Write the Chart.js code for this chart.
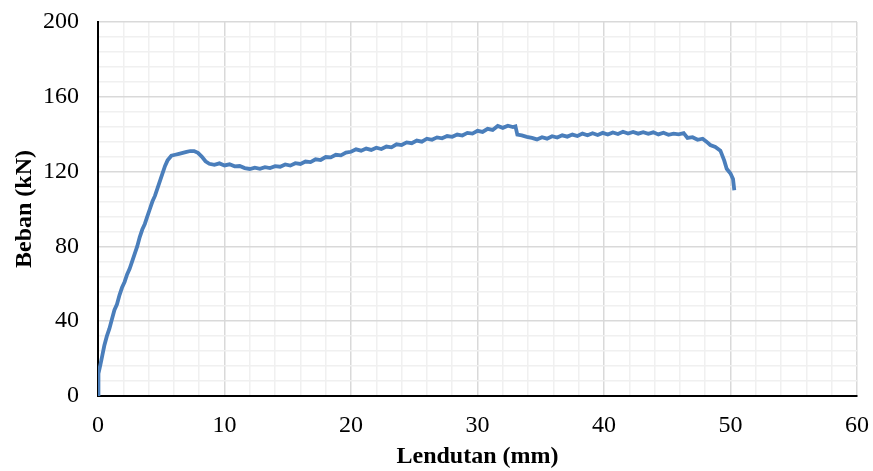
<!DOCTYPE html>
<html>
<head>
<meta charset="utf-8">
<script src="https://cdn.jsdelivr.net/npm/chart.js@4.4.1/dist/chart.umd.min.js"></script>
<style>
  html, body { margin: 0; padding: 0; background: #fff; }
  #wrap { width: 873px; height: 471px; }
</style>
</head>
<body>
<div id="wrap"><canvas id="chartBeban"></canvas></div>
<script>
// ─── DATA ───
const lendutan = [
  0, 0.02, 0.05, 0.2, 0.35, 0.5, 0.7, 0.9, 1.1, 1.3, 1.5, 1.7, 1.9, 2.1, 2.3, 2.5, 2.7, 2.9,
  3.1, 3.3, 3.5, 3.7, 3.9, 4.1, 4.3, 4.5, 4.7, 4.9, 5.1, 5.3, 5.5, 5.8, 6.1, 6.4, 6.7, 7.0,
  7.3, 7.6, 7.9, 8.2, 8.5, 8.8, 9.2, 9.6, 10.0, 10.4, 10.8, 11.2, 11.6, 12.0, 12.4, 12.8,
  13.2, 13.6, 14.0, 14.4, 14.8, 15.2, 15.6, 16.0, 16.4, 16.8, 17.2, 17.6, 18.0, 18.4, 18.8,
  19.2, 19.6, 20.0, 20.4, 20.8, 21.2, 21.6, 22.0, 22.4, 22.8, 23.2, 23.6, 24.0, 24.4, 24.8,
  25.2, 25.6, 26.0, 26.4, 26.8, 27.2, 27.6, 28.0, 28.4, 28.8, 29.2, 29.6, 30.0, 30.4, 30.8,
  31.2, 31.6, 32.0, 32.4, 32.8, 33.0, 33.15, 33.5, 33.9, 34.3, 34.7, 35.1, 35.5, 35.9, 36.3,
  36.7, 37.1, 37.5, 37.9, 38.3, 38.7, 39.1, 39.5, 39.9, 40.3, 40.7, 41.1, 41.5, 41.9, 42.3,
  42.7, 43.1, 43.5, 43.9, 44.3, 44.7, 45.1, 45.5, 45.9, 46.3, 46.6, 47.0, 47.4, 47.8, 48.1,
  48.4, 48.8, 49.2, 49.5, 49.7, 50.0, 50.2, 50.3
];
const beban = [
  0, 8, 12, 17, 22, 27, 32, 36, 41, 46, 49, 54, 58, 61, 65, 68, 72, 76,
  80, 85, 89, 92, 96, 100, 104, 107, 111, 115, 119, 123, 126, 128.5, 129, 129.5, 130, 130.5,
  131, 131, 130, 128, 125.5, 124.2, 123.6, 124.4, 123.3, 123.9, 122.8, 123.0, 121.9, 121.4, 122.1, 121.5,
  122.4, 121.9, 122.9, 122.6, 123.8, 123.2, 124.5, 124.1, 125.4, 125.1, 126.6, 126.2, 127.8, 127.6, 129.0,
  128.7, 130.2, 130.6, 131.9, 131.2, 132.3, 131.6, 132.8, 132.1, 133.4, 133.0, 134.6, 134.2, 135.6, 135.2,
  136.6, 136.0, 137.6, 137.0, 138.3, 137.8, 139.0, 138.6, 139.8, 139.3, 140.7, 140.3, 141.8, 141.2, 142.9,
  142.3, 144.4, 143.4, 144.5, 143.8, 144.2, 139.8, 139.4, 138.6, 138.0, 137.2, 138.4, 137.6, 138.9, 138.2,
  139.4, 138.7, 139.8, 139.0, 140.3, 139.4, 140.5, 139.6, 140.7, 139.8, 140.9, 140.1, 141.3, 140.4, 141.2,
  140.3, 141.1, 140.2, 141.0, 139.9, 140.8, 139.7, 140.3, 139.9, 140.6, 138.0, 138.4, 137.0, 137.6, 136.0,
  134.2, 133.2, 131.2, 126, 121.5, 119, 116, 110
];
const xTicks = [0, 10, 20, 30, 40, 50, 60];
const yTicks = [0, 40, 80, 120, 160, 200];

// ─── CHART ───
const FONT = "'Liberation Serif', 'Times New Roman', serif";
const points = lendutan.map((x, i) => ({ x: x, y: beban[i] }));

new Chart(document.getElementById('chartBeban'), {
  type: 'line',
  data: {
    datasets: [{
      data: points,
      borderColor: '#4a7ebb',
      borderWidth: 3.8,
      pointRadius: 0,
      tension: 0,
      fill: false
    }]
  },
  options: {
    responsive: true,
    maintainAspectRatio: false,
    animation: false,
    layout: { padding: { top: 22, right: 16, left: 0, bottom: 0 } },
    plugins: { legend: { display: false }, tooltip: { enabled: false } },
    scales: {
      x: {
        type: 'linear',
        min: 0, max: 60,
        afterFit: s => { s.height = 75; s.paddingLeft = 0; s.paddingRight = 0; },
        border: { color: '#000', width: 2 },
        grid: {
          drawTicks: false,
          lineWidth: 1.5,
          color: c => xTicks.includes(c.tick.value) ? '#d9d9d9' : '#f0f0f0'
        },
        ticks: {
          stepSize: 2,
          autoSkip: false,
          maxRotation: 0,
          padding: 15,
          color: '#000',
          font: { family: FONT, size: 24 },
          callback: v => xTicks.includes(v) ? v : ''
        },
        title: {
          display: true,
          text: 'Lendutan (mm)',
          color: '#000',
          padding: { top: 0, bottom: 0 },
          font: { family: FONT, size: 24, weight: 'bold' }
        }
      },
      y: {
        min: 0, max: 200,
        afterFit: s => { s.width = 98; s.paddingTop = 0; s.paddingBottom = 0; },
        border: { color: '#000', width: 2 },
        grid: {
          drawTicks: false,
          lineWidth: 1.5,
          color: c => yTicks.includes(c.tick.value) ? '#d9d9d9' : '#f0f0f0'
        },
        ticks: {
          stepSize: 8,
          autoSkip: false,
          padding: 19,
          color: '#000',
          font: { family: FONT, size: 24 },
          callback: v => yTicks.includes(v) ? v : ''
        },
        title: {
          display: true,
          text: 'Beban (kN)',
          color: '#000',
          padding: { top: 10, bottom: 0 },
          font: { family: FONT, size: 24, weight: 'bold' }
        }
      }
    }
  }
});
</script>
</body>
</html>
